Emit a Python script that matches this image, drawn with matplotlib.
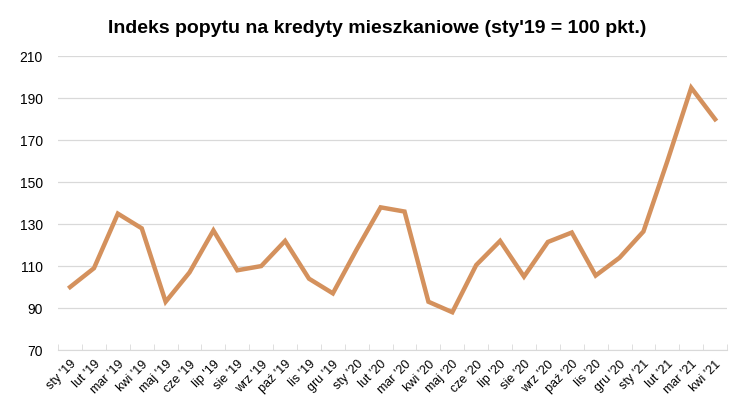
import numpy as np
import matplotlib
matplotlib.use("Agg")
import matplotlib.pyplot as plt
from matplotlib.ticker import FixedLocator

# =========================
# 데이터
# =========================
months = ["sty", "lut", "mar", "kwi", "maj", "cze", "lip", "sie", "wrz", "paź", "lis", "gru"]
labels = [f"{m} '19" for m in months] + [f"{m} '20" for m in months] + [f"{m} '21" for m in months[:4]]

index_values = [
    100, 109, 135, 128, 93, 107, 127, 108, 110, 122, 104, 97,
    118, 138, 136, 93, 88, 110.5, 122, 105, 121.5, 126, 105.5, 114,
    126.5, 160, 195, 180,
]

LINE_COLOR = "#D4915D"
GRID_COLOR = "#D9D9D9"

plt.rcParams['font.family'] = ['Liberation Sans', 'DejaVu Sans']

fig = plt.figure(figsize=(7.55, 3.98), dpi=100)
ax = fig.add_axes([0.077, 0.1206, 0.886, 0.7379])

x = np.arange(len(index_values))
ax.plot(x, index_values, color=LINE_COLOR, linewidth=3.2, solid_joinstyle="miter")

ax.set_xlim(-0.5, len(index_values) - 0.5)
ax.set_ylim(70, 210)
ax.set_yticks(range(70, 211, 20))
ax.grid(axis="y", color=GRID_COLOR, linewidth=0.9)
ax.set_axisbelow(True)

ax.set_xticks(x)
ax.set_xticklabels(labels, rotation=45, ha="right", rotation_mode="anchor", fontsize=9)
ax.xaxis.set_minor_locator(FixedLocator(np.arange(-0.5, len(index_values), 1)))
ax.tick_params(axis="x", which="major", length=0, pad=6)
ax.tick_params(axis="x", which="minor", length=4, direction="in", color=GRID_COLOR)
ax.tick_params(axis="y", length=0, labelsize=10, pad=11)

for side in ["top", "right", "left"]:
    ax.spines[side].set_visible(False)
ax.spines["bottom"].set_color(GRID_COLOR)

fig.suptitle("Indeks popytu na kredyty mieszkaniowe (sty'19 = 100 pkt.)",
             x=0.5, y=0.95, fontsize=14, fontweight="bold")

fig.savefig("out.png", dpi=100)
